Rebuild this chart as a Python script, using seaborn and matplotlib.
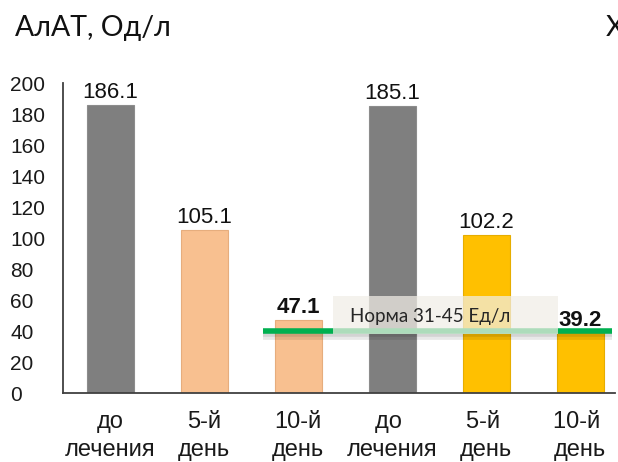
import matplotlib
matplotlib.use("Agg")
import matplotlib.pyplot as plt
import matplotlib.patheffects as pe
from matplotlib.patches import Rectangle
import seaborn as sns
import pandas as pd

# Data
categories = ["до\nлечения", "5-й\nдень", "10-й\nдень", "до \nлечения", "5-й \nдень", "10-й \nдень"]
values = [186.1, 105.1, 47.1, 185.1, 102.2, 39.2]
bar_colors = ["#7f7f7f", "#f8c090", "#f8c090", "#7f7f7f", "#ffc000", "#ffc000"]
edge_colors = ["#8c8c8c", "#e6ad7d", "#e6ad7d", "#8c8c8c", "#e6ad00", "#e6ad00"]
bold_labels = [False, False, True, False, False, True]
yticks = [0, 20, 40, 60, 80, 100, 120, 140, 160, 180, 200]
norm_level = 40
norm_text = "Норма 31-45 Ед/л"
title = "АлАТ, Од/л"

sns.set_theme(style="white")
plt.rcParams["font.family"] = ["Liberation Sans", "DejaVu Sans"]

df = pd.DataFrame({"cat": categories, "val": values})

fig = plt.figure(figsize=(6.18, 4.62), dpi=100)
ax = fig.add_axes([0.102, 0.149, 0.893, 0.671])

sns.barplot(data=df, x="cat", y="val", hue="cat", palette=bar_colors,
            width=0.5, legend=False, ax=ax, saturation=1)
for patch, ec in zip(ax.patches, edge_colors):
    patch.set_edgecolor(ec)
    patch.set_linewidth(0.8)

ax.set_ylim(0, 200)
ax.set_xlim(-0.5, 5.37)
ax.set_yticks(yticks)
ax.set_xlabel("")
ax.set_ylabel("")

# Spines
for s in ["top", "right"]:
    ax.spines[s].set_visible(False)
for s in ["left", "bottom"]:
    ax.spines[s].set_color("#404040")
    ax.spines[s].set_linewidth(1.3)

ax.tick_params(axis="y", length=0, pad=38, labelsize=15, labelcolor="#1a1a1a")
for lbl in ax.get_yticklabels():
    lbl.set_horizontalalignment("left")
ax.tick_params(axis="x", length=0, pad=13, labelsize=17, labelcolor="#1a1a1a")
for lbl in ax.get_xticklabels():
    lbl.set_linespacing(1.35)

# Value labels
for i, (v, b) in enumerate(zip(values, bold_labels)):
    ax.text(i, v + 1.2, f"{v:.1f}", ha="center", va="bottom", fontsize=16,
            fontweight="bold" if b else "normal", color="#111111")

# Reference norm line with a soft shadow
ax.plot([1.63, 5.34], [norm_level, norm_level], color="#00b050", lw=4,
        solid_capstyle="butt", zorder=5,
        path_effects=[pe.SimpleLineShadow(offset=(0, -2.5), shadow_color="#000000",
                                          alpha=0.09, linewidth=7),
                      pe.SimpleLineShadow(offset=(0, -2), shadow_color="#000000",
                                          alpha=0.09, linewidth=4),
                      pe.Normal()])

# Norm caption box (semi-transparent, over the line)
ax.add_patch(Rectangle((2.37, 38.0), 2.39, 24.6, facecolor="#f1eee6",
                       edgecolor="none", alpha=0.72, zorder=6))
ax.text(2.55, 49.5, norm_text, ha="left", va="center", fontsize=13.5,
        family=["Lato", "DejaVu Sans"], color="#262626", zorder=7)

# Title
fig.text(15 / 618, 1 - 36 / 462, title, ha="left", va="baseline", fontsize=20.5,
         family=["Lato", "DejaVu Sans"], color="#111111")
fig.text(606 / 618, 1 - 36 / 462, "Х", ha="left", va="baseline", fontsize=20.5,
         family=["Lato", "DejaVu Sans"], color="#111111")

fig.savefig("out.png", dpi=100)
